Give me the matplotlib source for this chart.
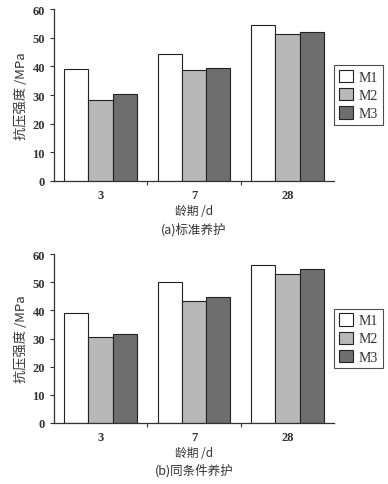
import numpy as np
import matplotlib.pyplot as plt

ages = ['3', '7', '28']
series = ['M1', 'M2', 'M3']
std_cure = {'M1': [39.2, 44.2, 54.4], 'M2': [28.2, 38.7, 51.5], 'M3': [30.4, 39.5, 51.9]}
same_cure = {'M1': [39.2, 50.0, 56.2], 'M2': [30.5, 43.5, 52.8], 'M3': [31.5, 44.6, 54.8]}
colors = ['#ffffff', '#b8b8b8', '#6e6e6e']

serif = ['Liberation Serif', 'Noto Sans CJK SC']
cjk = ['Noto Sans CJK SC', 'Liberation Serif']
txt = '#333333'

fig = plt.figure(figsize=(3.88, 4.85), dpi=100)

def panel(rect, data, caption, cap_y):
    ax = fig.add_axes(rect)
    x = np.arange(len(ages)) + 0.5
    w = 0.26
    for i, s in enumerate(series):
        ax.bar(x + (i - 1) * w, data[s], w, color=colors[i], edgecolor='#222222',
               linewidth=0.8, label=s)
    ax.set_xlim(0, 3)
    ax.set_ylim(0, 60)
    ax.set_yticks(range(0, 61, 10))
    ax.set_xticks([1, 2])
    ax.set_xticklabels([])
    ax.set_xticks(x, minor=True)
    ax.set_xticklabels(ages, minor=True, family=serif, fontsize=9, color=txt)
    ax.tick_params(axis='x', which='minor', length=0, pad=6)
    ax.tick_params(axis='x', which='major', length=3, width=0.8, color='#333333')
    ax.tick_params(axis='y', length=3, width=0.8, color='#333333', labelsize=9,
                   labelcolor=txt)
    for lab in ax.get_yticklabels():
        lab.set_family(serif)
        lab.set_fontweight('bold')
    for lab in ax.get_xticklabels(minor=True):
        lab.set_fontweight('bold')
    for sp in ['top', 'right']:
        ax.spines[sp].set_visible(False)
    for sp in ['left', 'bottom']:
        ax.spines[sp].set_linewidth(0.9)
        ax.spines[sp].set_color('#333333')
    ax.set_ylabel('抗压强度 /MPa', family=cjk, fontsize=9.5, color=txt, labelpad=3)
    ax.set_xlabel('龄期 /d', family=cjk, fontsize=8.5, color=txt, labelpad=2)
    ax.text(0.5, cap_y, caption, transform=ax.transAxes, ha='center', va='center',
            family=cjk, fontsize=9, color=txt)
    leg = ax.legend(loc='center left', bbox_to_anchor=(1.0, 0.5), frameon=True,
                    fancybox=False, edgecolor='#222222', handlelength=1.0,
                    handleheight=1.0, handletextpad=0.4, borderpad=0.35,
                    borderaxespad=0.0, labelspacing=0.3,
                    prop={'family': serif, 'size': 10})
    leg.get_frame().set_linewidth(0.8)
    for t in leg.get_texts():
        t.set_color(txt)
    return ax

panel([0.139, 0.625, 0.722, 0.354], std_cure, '(a)标准养护', -0.28)
panel([0.139, 0.126, 0.722, 0.348], same_cure, '(b)同条件养护', -0.275)

fig.savefig('out.png', dpi=100)
